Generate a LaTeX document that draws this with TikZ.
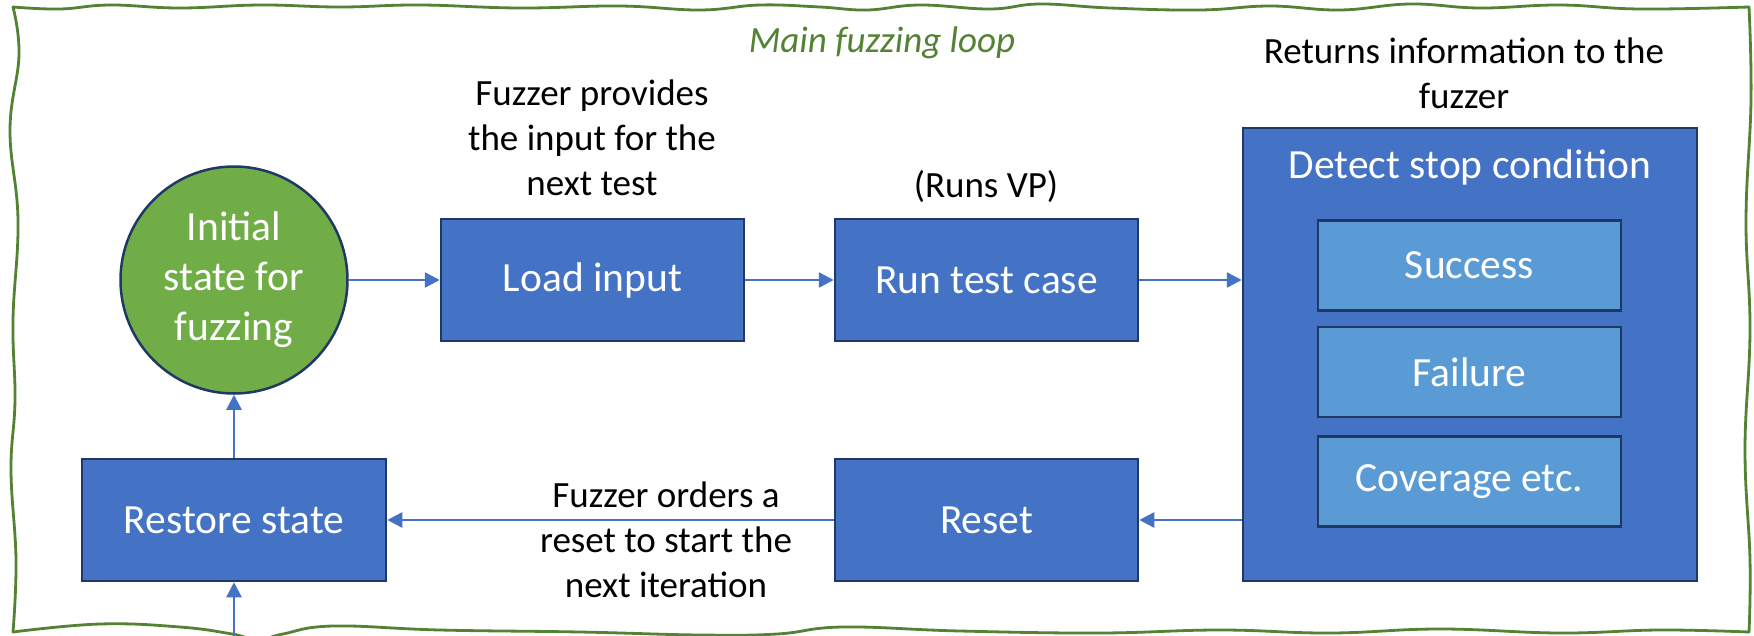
\documentclass[tikz,border=0pt]{standalone}
\usepackage{fontspec}
\setmainfont{Carlito}
\usetikzlibrary{arrows.meta}

\definecolor{boxblue}{HTML}{4472C4}
\definecolor{boxedge}{HTML}{1F3864}
\definecolor{lightblue}{HTML}{5B9BD5}
\definecolor{stategreen}{HTML}{70AD47}
\definecolor{loopgreen}{HTML}{548235}

\tikzset{
  stepbox/.style={draw=boxedge, line width=2.5pt, fill=boxblue, text=white,
    font=\fontsize{41.5}{50}\selectfont, inner sep=0pt, align=center,
    minimum width=303pt, minimum height=122pt},
  subbox/.style={stepbox, fill=lightblue, minimum height=90pt},
  statenode/.style={circle, draw=boxedge, line width=2.5pt, fill=stategreen, text=white,
    font=\fontsize{41.5}{50}\selectfont, inner sep=0pt, align=center, minimum size=227pt},
  note/.style={font=\fontsize{37}{45}\selectfont, align=center, anchor=base, inner sep=0pt},
  flow/.style={draw=boxblue, line width=2.5pt, -{Triangle[length=15pt,width=15pt]}},
  wavy/.style={draw=loopgreen, line width=2.8pt, line cap=round, line join=round}
}

\begin{document}
\begin{tikzpicture}[x=1pt, y=-1pt]
\path[use as bounding box, clip] (0,0) rectangle (1754,635);
\fill[white] (0,0) rectangle (1754,635);

% hand-drawn frame of the loop
\draw[wavy] plot[smooth, tension=0.7] coordinates {(13,7) (60,9) (110,5) (180,8) (260,5) (340,7) (420,5) (520,8) (620,6) (700,10) (760,5) (820,7) (867,10) (920,5) (990,9) (1040,4) (1110,8) (1200,10) (1270,6) (1340,10) (1410,4) (1480,8) (1560,5) (1640,9) (1749,7)};
\draw[wavy] plot[smooth, tension=0.7] coordinates {(1749,7) (1751,100) (1746,220) (1750,330) (1745,450) (1750,560) (1749,632)};
\draw[wavy] plot[smooth, tension=0.7] coordinates {(1749,632) (1660,630) (1560,633) (1440,629) (1330,633) (1220,630) (1100,633) (960,631) (843,627) (777,634) (700,635) (580,632) (440,630) (333,626) (283,634) (258,640) (232,634) (180,627) (100,624) (13,632)};
\draw[wavy] plot[smooth, tension=0.7] coordinates {(13,632) (16,560) (11,470) (15,400) (13,320) (18,220) (10,130) (19,55) (13,7)};

\node[note, text=loopgreen, font=\fontsize{37}{45}\selectfont\itshape] (title) at (882,52) {Main fuzzing loop};

% states and steps
\node[statenode] (init) at (234,280) {Initial\\state for\\fuzzing};
\node[stepbox] (load) at (592.5,280) {Load input};
\node[stepbox] (run) at (986.5,280) {Run test case};
\node[stepbox, minimum width=454pt, minimum height=453pt] (detect) at (1470,354.5) {};
\node[text=white, font=\fontsize{41.5}{50}\selectfont, inner sep=0pt] (detectlabel) at (1470,167) {Detect stop condition};
\node[subbox] (success) at (1469.5,265.5) {Success};
\node[subbox] (failure) at (1469.5,372) {Failure};
\node[subbox] (coverage) at (1469.5,481.5) {Coverage etc.};
\node[stepbox] (reset) at (986.5,520) {Reset};
\node[stepbox, minimum width=304pt] (restore) at (234,520) {Restore state};
\coordinate (entry) at (234,645);

% annotations (base anchor sits on the last line)
\node[note] (provides) at (592,195) {Fuzzer provides\\the input for the\\next test};
\node[note] (runsvp) at (986,197) {(Runs VP)};
\node[note] (returns) at (1464,108) {Returns information to the\\fuzzer};
\node[note] (orders) at (666,597) {Fuzzer orders a\\reset to start the\\next iteration};

% connectors
\draw[flow] (init.east) -- (load.west);
\draw[flow] (load.east) -- (run.west);
\draw[flow] (run.east) -- (run.east -| detect.west);
\draw[flow] (detect.west |- reset.east) -- (reset.east);
\draw[flow] (reset.west) -- (restore.east);
\draw[flow] (restore.north) -- (init.south);
\draw[flow] (entry) -- (restore.south);
\end{tikzpicture}
\end{document}
